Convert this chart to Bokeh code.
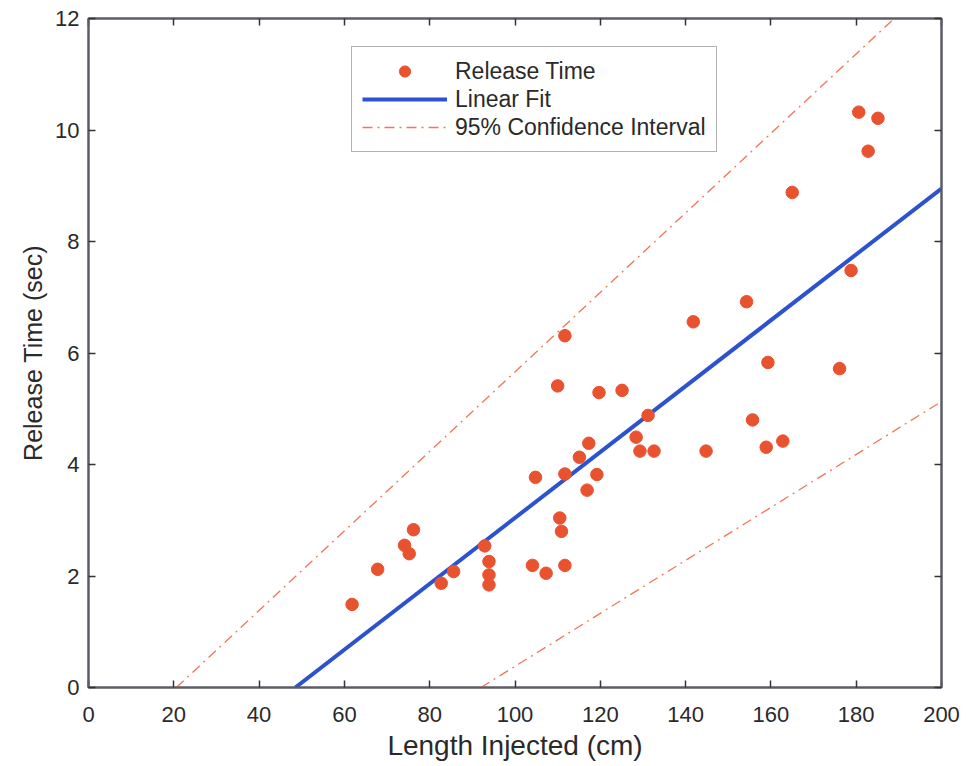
from bokeh.plotting import figure
from bokeh.models import Range1d, LinearAxis, FixedTicker, Legend, LegendItem
from bokeh.embed import file_html
from bokeh.resources import INLINE

# Data
length_cm = [61.8, 67.8, 74.1, 75.2, 76.2, 82.7, 85.6, 92.9, 93.9, 93.9, 93.9,
             104.1, 107.3, 104.8, 110.0, 110.5, 110.9, 111.7, 111.7, 111.7,
             115.1, 116.9, 117.3, 119.2, 119.7, 125.1, 128.4, 129.3, 131.2, 132.6,
             141.8, 144.8, 154.3, 155.7, 158.9, 159.3, 162.8, 165.0, 176.1, 178.8,
             180.6, 182.8, 185.1]
release_sec = [1.49, 2.12, 2.55, 2.40, 2.83, 1.87, 2.08, 2.54, 2.26, 2.02, 1.84,
               2.19, 2.05, 3.77, 5.41, 3.04, 2.80, 2.19, 3.83, 6.31,
               4.13, 3.54, 4.38, 3.82, 5.29, 5.33, 4.49, 4.24, 4.88, 4.24,
               6.56, 4.24, 6.92, 4.80, 4.31, 5.83, 4.42, 8.88, 5.72, 7.48,
               10.32, 9.62, 10.21]
fit_x = [48.5, 200.0]
fit_y = [0.0, 8.95]
ci_upper_x = [20.6, 188.9]
ci_upper_y = [0.0, 12.0]
ci_lower_x = [92.0, 200.0]
ci_lower_y = [0.0, 5.13]
x_ticks = [0, 20, 40, 60, 80, 100, 120, 140, 160, 180, 200]
y_ticks = [0, 2, 4, 6, 8, 10, 12]

FONT = "Liberation Sans"
AXIS_COLOR = "#5c5c66"
TEXT_COLOR = "#2a2a2a"
DOT_COLOR = "#e8522f"
FIT_COLOR = "#2d52cf"
CI_COLOR = "#f27656"

p = figure(width=961, height=763, output_backend="svg", toolbar_location=None,
           x_range=Range1d(0, 200), y_range=Range1d(0, 12))
p.frame_width = 853
p.frame_height = 669
p.min_border_left = 88
p.min_border_top = 18
p.min_border_right = 20
p.min_border_bottom = 76
p.grid.visible = False
p.background_fill_color = "white"
p.border_fill_color = "white"
p.outline_line_color = AXIS_COLOR
p.outline_line_width = 2

r_ci_u = p.line(ci_upper_x, ci_upper_y, line_color=CI_COLOR, line_width=1.3, line_dash="10 5 2 5")
r_ci_l = p.line(ci_lower_x, ci_lower_y, line_color=CI_COLOR, line_width=1.3, line_dash="10 5 2 5")
r_fit = p.line(fit_x, fit_y, line_color=FIT_COLOR, line_width=4)
r_pts = p.scatter(length_cm, release_sec, size=12.5, fill_color=DOT_COLOR, line_color=DOT_COLOR)

def style_axis(ax, labels=True):
    ax.axis_line_color = AXIS_COLOR
    ax.axis_line_width = 2
    ax.major_tick_in = 7
    ax.major_tick_out = 0
    ax.minor_tick_line_color = None
    ax.major_tick_line_color = "#333333"
    ax.major_tick_line_width = 1.5
    ax.major_label_text_font = FONT
    ax.major_label_text_color = TEXT_COLOR
    ax.major_label_text_font_size = "22px"
    ax.axis_label_text_font = FONT
    ax.axis_label_text_color = TEXT_COLOR
    ax.axis_label_text_font_style = "normal"
    if not labels:
        ax.major_label_text_color = None
        ax.major_label_standoff = 0

p.xaxis.ticker = FixedTicker(ticks=x_ticks)
p.yaxis.ticker = FixedTicker(ticks=y_ticks)
p.xaxis.axis_label = "Length Injected (cm)"
p.yaxis.axis_label = "Release Time (sec)"
style_axis(p.xaxis[0])
style_axis(p.yaxis[0])
p.xaxis.axis_label_text_font_size = "28px"
p.yaxis.axis_label_text_font_size = "25px"
p.xaxis.major_label_standoff = 19
p.yaxis.major_label_standoff = 9
p.xaxis.axis_label_standoff = 5
p.yaxis.axis_label_standoff = 5

ax_top = LinearAxis(ticker=FixedTicker(ticks=x_ticks))
style_axis(ax_top, labels=False)
p.add_layout(ax_top, "above")
ax_right = LinearAxis(ticker=FixedTicker(ticks=y_ticks))
style_axis(ax_right, labels=False)
p.add_layout(ax_right, "right")

legend = Legend(items=[
    LegendItem(label="Release Time", renderers=[r_pts]),
    LegendItem(label="Linear Fit", renderers=[r_fit]),
    LegendItem(label="95% Confidence Interval", renderers=[r_ci_u]),
], location=(263, 535))
legend.label_text_font = FONT
legend.label_text_font_size = "23px"
legend.label_text_color = TEXT_COLOR
legend.glyph_width = 85
legend.glyph_height = 28
legend.label_height = 28
legend.label_standoff = 8
legend.padding = 10
legend.spacing = 0
legend.margin = 0
legend.border_line_color = "#666666"
legend.border_line_width = 1.5
legend.background_fill_alpha = 1
p.add_layout(legend, "center")

open("out.html", "w").write(file_html(p, INLINE))
